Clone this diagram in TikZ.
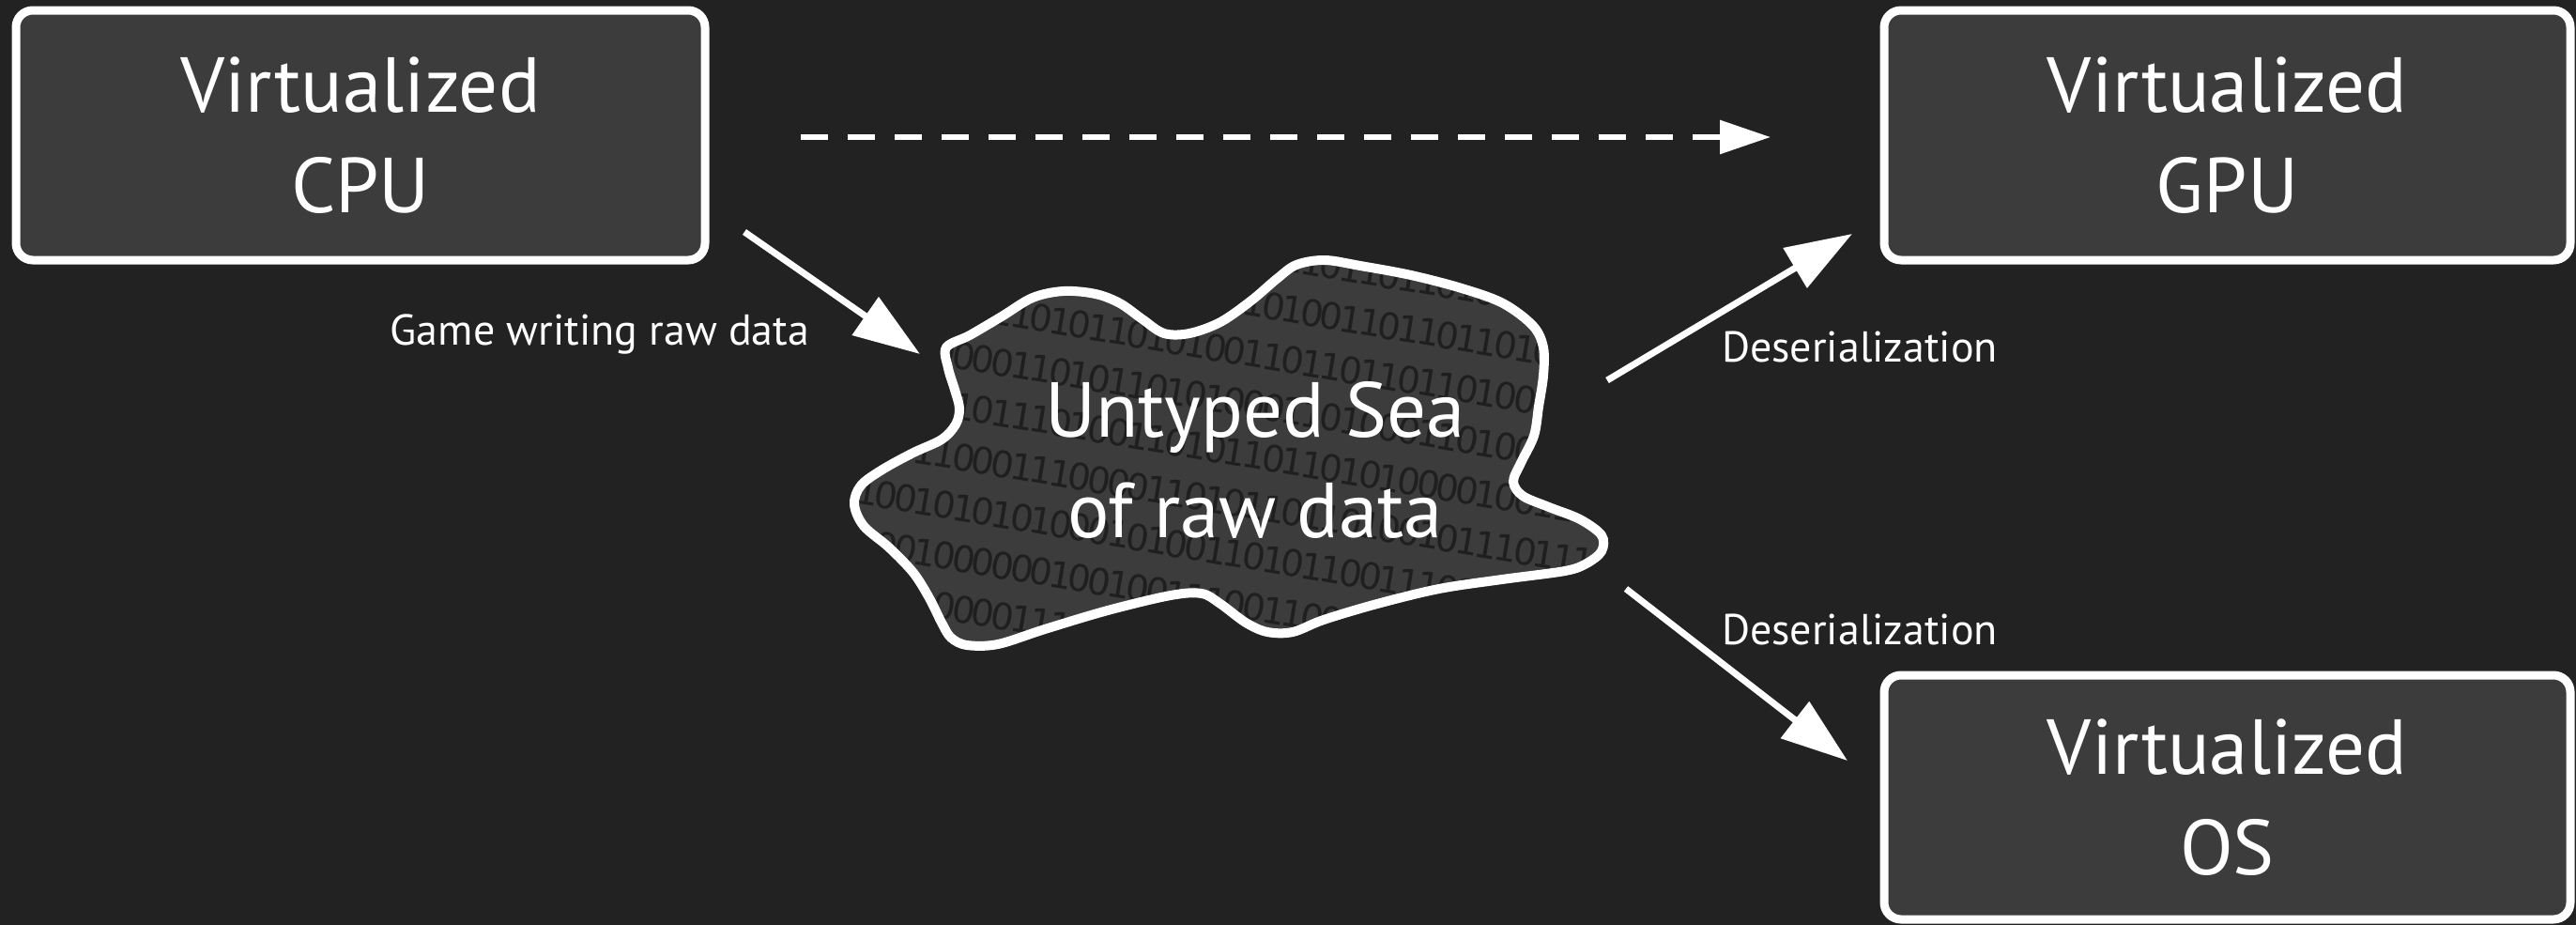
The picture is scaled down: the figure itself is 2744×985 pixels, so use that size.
\documentclass[tikz,border=0pt]{standalone}
\usepackage{fontspec}
\setmainfont{PT Sans}
\newfontfamily\binfont{DejaVu Sans}[LetterSpace=-10]
\usetikzlibrary{arrows.meta}
\definecolor{bg}{HTML}{222222}
\definecolor{boxgray}{HTML}{3C3C3C}
\definecolor{bindigit}{HTML}{1F1F1F}
\newcommand{\bits}[1]{#1}
\begin{document}
\begin{tikzpicture}[x=1pt,y=-1pt,
  box/.style={draw=white, line width=9pt, fill=boxgray, rounded corners=18pt, inner sep=0pt, text=white, align=center, font=\fontsize{83}{107}\selectfont},
  cloudtext/.style={text=white, inner sep=0pt, align=center, font=\fontsize{83}{107}\selectfont},
  lbl/.style={text=white, inner sep=0pt, anchor=base, font=\fontsize{46}{55}\selectfont},
  arr/.style={draw=white, line width=7pt, -{Triangle[length=71pt,width=48pt]}},
  dasharr/.style={draw=white, line width=6pt, dash pattern=on 29pt off 21pt, -{Triangle[length=54pt,width=35pt]}},
  bin/.style={text=bindigit, anchor=west, rotate=-9.5, inner sep=0pt, font=\binfont\fontsize{39}{44}\selectfont}
]
\useasboundingbox (0,0) rectangle (2744,985);
\fill[bg] (0,0) rectangle (2744,985);

% cloud shape
\path[save path=\cloudpath] plot[smooth cycle, tension=0.55] coordinates {
 (1008,370) (1033,357) (1067,337) (1100,317) (1133,310) (1167,313) (1193,323)
 (1217,340) (1240,355) (1267,355) (1300,343) (1333,320) (1360,297) (1381,282)
 (1411,277) (1449,283) (1503,293) (1557,307) (1601,323) (1633,347) (1644,370)
 (1644,400) (1639,433) (1634,464) (1620,493) (1612,513) (1622,528) (1650,540)
 (1683,553) (1706,570) (1706,587) (1690,600) (1667,608) (1600,617) (1533,627)
 (1467,643) (1410,660) (1377,673) (1350,673) (1327,663) (1300,643) (1280,632)
 (1247,634) (1180,650) (1113,670) (1063,686) (1030,687) (1013,679) (1003,663)
 (990,637) (973,610) (947,583) (920,560) (910,537) (917,517) (940,500) (973,482)
 (1003,468) (1018,452) (1022,435) (1017,415) (1010,392)};
\fill[boxgray, use path=\cloudpath];
\begin{scope}
\path[clip, use path=\cloudpath];
\node[bin] (b1) at (870,137) {\bits{1001101001011010011011010010110100110110101101}};
\node[bin] (b2) at (870,191) {\bits{0011010110100101101001001101101101001101101101}};
\node[bin] (b3) at (870,245) {\bits{0110101001101101011001101001101101101001101011}};
\node[bin] (b4) at (870,299) {\bits{1101011001101011010100110110110110100110101011}};
\node[bin] (b5) at (870,353) {\bits{0101000000110101101010001101000110100011101010}};
\node[bin] (b6) at (870,407) {\bits{1110100101110100110101101101010000100110110100}};
\node[bin] (b7) at (870,461) {\bits{1111011000111000011010110110100101110111011010}};
\node[bin] (b8) at (870,515) {\bits{0110010101010001010011010110011101110110101100}};
\node[bin] (b9) at (870,569) {\bits{0110010000001001001110011001001101010110100110}};
\node[bin] (b10) at (870,623) {\bits{1000010000111001000111011001101001101011011010}};
\node[bin] (b11) at (870,677) {\bits{0110100101101001101001010110010110101001011010}};
\node[bin] (b12) at (870,731) {\bits{1100011010010110011010011010110100101100101101}};
\end{scope}
\draw[white, line width=10pt, use path=\cloudpath];
\node[cloudtext] (cloud) at (1337,490) {Untyped Sea\\of raw data};

% boxes
\node[box, minimum width=734pt, minimum height=266pt] (cpu) at (384,144) {Virtualized\\CPU};
\node[box, minimum width=731pt, minimum height=266pt] (gpu) at (2372.5,144) {Virtualized\\GPU};
\node[box, minimum width=731pt, minimum height=260pt] (os) at (2372.5,849) {Virtualized\\OS};

% connector ends
\coordinate (cpuout) at (793,247);
\coordinate (cloudin) at (980,377);
\coordinate (cloudgpu) at (1712,405);
\coordinate (gpuin) at (1973,249);
\coordinate (cloudos) at (1732,627);
\coordinate (osin) at (1968,810);
\coordinate (dashs) at (853,146);
\coordinate (dashe) at (1886,146);

\draw[dasharr] (dashs) -- (dashe);
\draw[arr] (cpuout) -- (cloudin);
\draw[arr] (cloudgpu) -- (gpuin);
\draw[arr] (cloudos) -- (osin);

% labels
\node[lbl] (l1) at (639,367) {Game writing raw data};
\node[lbl] (l2) at (1981,385) {Deserialization};
\node[lbl] (l3) at (1981,686) {Deserialization};
\end{tikzpicture}
\end{document}
